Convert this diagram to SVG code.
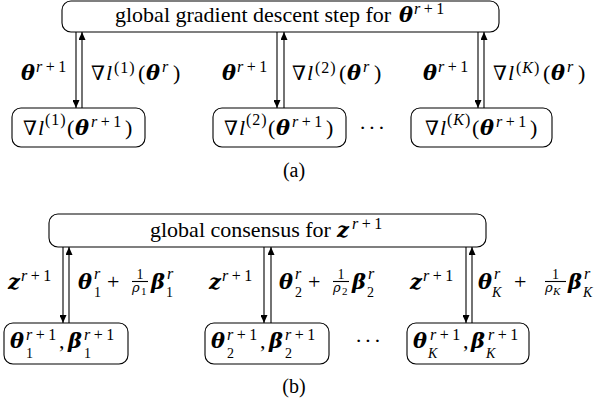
<svg xmlns="http://www.w3.org/2000/svg" width="605" height="406" viewBox="0 0 605 406">
<style>
.box{fill:#fff;stroke:#000;stroke-width:1.1}
.t{font-family:"Liberation Serif","DejaVu Serif",serif;font-size:22px;fill:#000}
.bi{font-family:"DejaVu Serif",serif;font-weight:bold;font-style:italic;font-size:21px}
.nb{font-family:"DejaVu Serif",serif;font-size:20px}
.it{font-style:italic}
.sp{font-size:16px}
.sb{font-size:14px}
.ss{font-size:11px}
.fr{font-size:14px}
.frb{font-family:"DejaVu Serif",serif;font-style:italic;font-size:13px}
.cap{font-family:"Liberation Serif","DejaVu Serif",serif;font-size:20px;fill:#000;text-anchor:middle}
.c{stroke:#000;stroke-width:1.1;fill:none}
</style>
<defs>
<marker id="ah" markerWidth="8" markerHeight="7" refX="8" refY="3.5" orient="auto" markerUnits="userSpaceOnUse"><path d="M0,0 L8,3.5 L0,7 z" fill="#000"/></marker>
</defs>
<rect width="605" height="406" fill="#fff"/>

<!-- (a) -->
<g id="top-a">
<rect class="box" x="62" y="1" width="437" height="31" rx="9"/>
<text class="t" x="115" y="22">global gradient descent step for <tspan class="bi" x="399">θ</tspan><tspan class="sp" x="414" y="14"><tspan class="it">r</tspan><tspan dx="3.5">+</tspan><tspan dx="3.5">1</tspan></tspan></text>
</g>
<g id="node-a1">
<rect class="box" x="12" y="108" width="133" height="39" rx="9"/>
<text class="t" y="135"><tspan class="nb" x="23">∇</tspan><tspan class="it" x="38">l</tspan><tspan class="sp" x="45" y="125" letter-spacing="1">(1)</tspan><tspan x="67" y="135">(</tspan><tspan class="bi" x="75">θ</tspan><tspan class="sp" x="91" y="127"><tspan class="it">r</tspan><tspan dx="3.5">+</tspan><tspan dx="3.5">1</tspan></tspan><tspan x="125" y="135">)</tspan></text>
</g>
<g id="node-a2">
<rect class="box" x="213" y="108" width="133" height="39" rx="9"/>
<text class="t" y="135"><tspan class="nb" x="224">∇</tspan><tspan class="it" x="239">l</tspan><tspan class="sp" x="246" y="125" letter-spacing="1">(2)</tspan><tspan x="268" y="135">(</tspan><tspan class="bi" x="276">θ</tspan><tspan class="sp" x="292" y="127"><tspan class="it">r</tspan><tspan dx="3.5">+</tspan><tspan dx="3.5">1</tspan></tspan><tspan x="326" y="135">)</tspan></text>
</g>
<g id="node-a3">
<rect class="box" x="411" y="108" width="141" height="39" rx="9"/>
<text class="t" y="135"><tspan class="nb" x="425">∇</tspan><tspan class="it" x="440">l</tspan><tspan class="sp" x="447" y="125" letter-spacing="1">(<tspan class="it">K</tspan>)</tspan><tspan x="472" y="135">(</tspan><tspan class="bi" x="480">θ</tspan><tspan class="sp" x="496" y="127"><tspan class="it">r</tspan><tspan dx="3.5">+</tspan><tspan dx="3.5">1</tspan></tspan><tspan x="530" y="135">)</tspan></text>
</g>
<text class="t" x="359" y="135" letter-spacing="2">···</text>
<text class="cap" x="294" y="177">(a)</text>

<!-- (b) -->
<g id="top-b">
<rect class="box" x="49" y="214" width="437" height="33" rx="9"/>
<text class="t" x="150" y="237">global consensus for <tspan class="bi" x="337">z</tspan><tspan class="sp" x="352" y="229"><tspan class="it">r</tspan><tspan dx="3.5">+</tspan><tspan dx="3.5">1</tspan></tspan></text>
</g>
<g id="node-b1">
<rect class="box" x="4" y="323" width="124" height="41" rx="9"/>
<text class="t" y="348"><tspan class="bi" x="10">θ</tspan><tspan class="sp" x="26" y="340"><tspan class="it">r</tspan><tspan dx="3.5">+</tspan><tspan dx="3.5">1</tspan></tspan><tspan class="sb" x="26" y="358">1</tspan><tspan x="59" y="348">,</tspan><tspan class="bi" x="68">β</tspan><tspan class="sp" x="84" y="340"><tspan class="it">r</tspan><tspan dx="3.5">+</tspan><tspan dx="3.5">1</tspan></tspan><tspan class="sb" x="84" y="358">1</tspan></text>
</g>
<g id="node-b2">
<rect class="box" x="205" y="323" width="124" height="41" rx="9"/>
<text class="t" y="348"><tspan class="bi" x="211">θ</tspan><tspan class="sp" x="227" y="340"><tspan class="it">r</tspan><tspan dx="3.5">+</tspan><tspan dx="3.5">1</tspan></tspan><tspan class="sb" x="227" y="358">2</tspan><tspan x="260" y="348">,</tspan><tspan class="bi" x="269">β</tspan><tspan class="sp" x="285" y="340"><tspan class="it">r</tspan><tspan dx="3.5">+</tspan><tspan dx="3.5">1</tspan></tspan><tspan class="sb" x="285" y="358">2</tspan></text>
</g>
<g id="node-b3">
<rect class="box" x="407" y="323" width="122" height="41" rx="9"/>
<text class="t" y="348"><tspan class="bi" x="413">θ</tspan><tspan class="sp" x="430" y="340"><tspan class="it">r</tspan><tspan dx="3.5">+</tspan><tspan dx="3.5">1</tspan></tspan><tspan class="sb it" x="428" y="358">K</tspan><tspan x="463" y="348">,</tspan><tspan class="bi" x="471">β</tspan><tspan class="sp" x="488" y="340"><tspan class="it">r</tspan><tspan dx="3.5">+</tspan><tspan dx="3.5">1</tspan></tspan><tspan class="sb it" x="486" y="358">K</tspan></text>
</g>
<text class="t" x="355" y="348" letter-spacing="2">···</text>
<text class="cap" x="294" y="393">(b)</text>

<g id="connectors">
<line class="c" x1="76" y1="32" x2="76" y2="108" marker-end="url(#ah)"/>
<line class="c" x1="82" y1="108" x2="82" y2="32" marker-end="url(#ah)"/>
<line class="c" x1="277" y1="32" x2="277" y2="108" marker-end="url(#ah)"/>
<line class="c" x1="284" y1="108" x2="284" y2="32" marker-end="url(#ah)"/>
<line class="c" x1="478" y1="32" x2="478" y2="108" marker-end="url(#ah)"/>
<line class="c" x1="484" y1="108" x2="484" y2="32" marker-end="url(#ah)"/>
<line class="c" x1="63" y1="247" x2="63" y2="323" marker-end="url(#ah)"/>
<line class="c" x1="69" y1="323" x2="69" y2="247" marker-end="url(#ah)"/>
<line class="c" x1="264" y1="247" x2="264" y2="323" marker-end="url(#ah)"/>
<line class="c" x1="271" y1="323" x2="271" y2="247" marker-end="url(#ah)"/>
<line class="c" x1="466" y1="247" x2="466" y2="323" marker-end="url(#ah)"/>
<line class="c" x1="472" y1="323" x2="472" y2="247" marker-end="url(#ah)"/>
</g>

<g id="edge-labels">
<text class="t" y="80"><tspan class="bi" x="21">θ</tspan><tspan class="sp" x="36" y="72"><tspan class="it">r</tspan><tspan dx="3.5">+</tspan><tspan dx="3.5">1</tspan></tspan></text>
<text class="t" y="80"><tspan class="nb" x="91">∇</tspan><tspan class="it" x="106">l</tspan><tspan class="sp" x="114" y="73" letter-spacing="1">(1)</tspan><tspan x="138" y="80">(</tspan><tspan class="bi" x="146">θ</tspan><tspan class="sp it" x="162" y="72">r</tspan><tspan x="173" y="80">)</tspan></text>
<text class="t" y="80"><tspan class="bi" x="222">θ</tspan><tspan class="sp" x="237" y="72"><tspan class="it">r</tspan><tspan dx="3.5">+</tspan><tspan dx="3.5">1</tspan></tspan></text>
<text class="t" y="80"><tspan class="nb" x="292">∇</tspan><tspan class="it" x="307">l</tspan><tspan class="sp" x="315" y="73" letter-spacing="1">(2)</tspan><tspan x="339" y="80">(</tspan><tspan class="bi" x="347">θ</tspan><tspan class="sp it" x="363" y="72">r</tspan><tspan x="374" y="80">)</tspan></text>
<text class="t" y="80"><tspan class="bi" x="423">θ</tspan><tspan class="sp" x="438" y="72"><tspan class="it">r</tspan><tspan dx="3.5">+</tspan><tspan dx="3.5">1</tspan></tspan></text>
<text class="t" y="80"><tspan class="nb" x="493">∇</tspan><tspan class="it" x="508">l</tspan><tspan class="sp" x="516" y="73" letter-spacing="1">(<tspan class="it">K</tspan>)</tspan><tspan x="543" y="80">(</tspan><tspan class="bi" x="551">θ</tspan><tspan class="sp it" x="567" y="72">r</tspan><tspan x="578" y="80">)</tspan></text>

<text class="t" y="289"><tspan class="bi" x="8">z</tspan><tspan class="sp" x="21" y="281"><tspan class="it">r</tspan><tspan dx="3.5">+</tspan><tspan dx="3.5">1</tspan></tspan></text>
<text class="t" y="289"><tspan class="bi" x="78">θ</tspan><tspan class="sp it" x="94" y="279">r</tspan><tspan class="sb" x="94" y="297">1</tspan><tspan x="107" y="289">+</tspan><tspan class="fr" x="136.5" y="279">1</tspan><tspan class="frb" x="132" y="292">ρ</tspan><tspan class="ss" x="141" y="295">1</tspan><tspan class="bi" x="151" y="289">β</tspan><tspan class="sp it" x="167" y="279">r</tspan><tspan class="sb" x="166" y="297">1</tspan></text>
<line class="c" x1="132" y1="281.5" x2="148" y2="281.5" stroke-width="0.7"/>

<text class="t" y="289"><tspan class="bi" x="209">z</tspan><tspan class="sp" x="222" y="281"><tspan class="it">r</tspan><tspan dx="3.5">+</tspan><tspan dx="3.5">1</tspan></tspan></text>
<text class="t" y="289"><tspan class="bi" x="279">θ</tspan><tspan class="sp it" x="295" y="279">r</tspan><tspan class="sb" x="295" y="297">2</tspan><tspan x="308" y="289">+</tspan><tspan class="fr" x="337.5" y="279">1</tspan><tspan class="frb" x="333" y="292">ρ</tspan><tspan class="ss" x="342" y="295">2</tspan><tspan class="bi" x="352" y="289">β</tspan><tspan class="sp it" x="368" y="279">r</tspan><tspan class="sb" x="367" y="297">2</tspan></text>
<line class="c" x1="333" y1="281.5" x2="349" y2="281.5" stroke-width="0.7"/>

<text class="t" y="289"><tspan class="bi" x="410">z</tspan><tspan class="sp" x="423" y="281"><tspan class="it">r</tspan><tspan dx="3.5">+</tspan><tspan dx="3.5">1</tspan></tspan></text>
<text class="t" y="289"><tspan class="bi" x="478">θ</tspan><tspan class="sp it" x="494" y="279">r</tspan><tspan class="sb it" x="492" y="297">K</tspan><tspan x="514" y="289">+</tspan><tspan class="fr" x="552" y="279">1</tspan><tspan class="frb" x="545" y="292">ρ</tspan><tspan class="ss it" x="553" y="295">K</tspan><tspan class="bi" x="568" y="289">β</tspan><tspan class="sp it" x="584" y="279">r</tspan><tspan class="sb it" x="583" y="297">K</tspan></text>
<line class="c" x1="545" y1="281.5" x2="566" y2="281.5" stroke-width="0.7"/>
</g>
</svg>
